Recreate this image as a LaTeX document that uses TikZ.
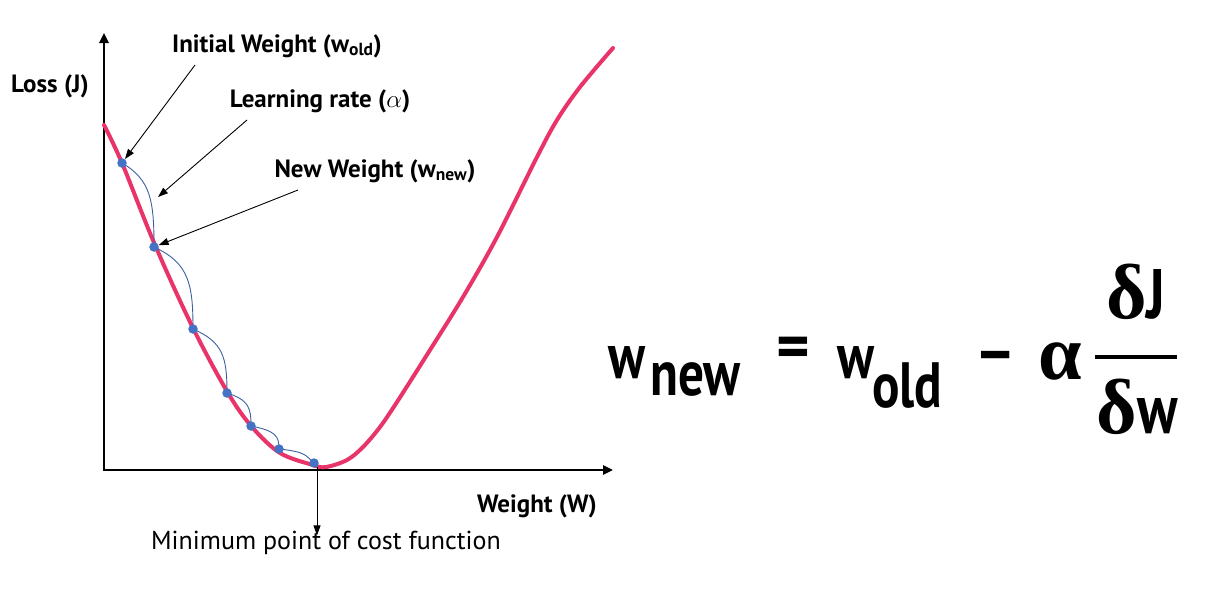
\RequirePackage{fix-cm}
\documentclass[tikz,border=0pt]{standalone}
\usepackage{fontspec}
\setmainfont{PT Sans}
\newfontfamily\grkfont{Liberation Serif}
\usetikzlibrary{arrows.meta}

\definecolor{losspink}{RGB}{233,52,106}
\definecolor{stepblue}{RGB}{68,114,196}
\definecolor{pathblue}{RGB}{62,96,160}
\newcommand{\squeeze}[1]{\scalebox{0.8}[1]{#1}}

\tikzset{
  axis/.style={line width=2.4pt, {Triangle[length=10pt,width=9pt]}-{Triangle[length=10pt,width=9pt]}},
  ptr/.style={line width=0.9pt, -{Triangle[length=10pt,width=7pt]}},
  wdot/.style={circle, fill=stepblue, inner sep=0pt, minimum size=9.5pt},
  lbl/.style={font=\bfseries\fontsize{25}{28}\selectfont, inner sep=0pt},
  eqn/.style={font=\bfseries\fontsize{64}{66}\selectfont, inner sep=0pt},
  greek/.style={font=\grkfont\bfseries\fontsize{78}{80}\selectfont, inner sep=0pt},
}

\begin{document}
\begin{tikzpicture}[x=1pt,y=-1pt]
\useasboundingbox (0,0) rectangle (1212,608);

% axes
\coordinate (O) at (104,470);
\coordinate (ytop) at (104,33);
\coordinate (xend) at (613,470);
\draw[axis] (ytop) -- (O) -- (xend);

% cost curve
\draw[losspink, line width=4pt, line cap=round] plot[smooth, tension=0.55] coordinates {
  (104,125) (122,163) (155,245) (193,328) (228,393) (252,427) (280,453)
  (313,465) (326,467) (347,460) (363,447) (380,427) (397,402) (430,350)
  (463,297) (497,237) (537,157) (557,120) (580,87) (613,48)};

% gradient steps
\foreach \n/\p in {1/{122,163}, 2/{154,247}, 3/{193,329}, 4/{227,393},
                   5/{251,426}, 6/{279,449}, 7/{314,463}}
  \coordinate (p\n) at (\p);
\draw[pathblue, line width=0.9pt]
  (p1) .. controls +(29,17) and +(0,-46) .. (p2)
       .. controls +(35,16) and +(0,-45) .. (p3)
       .. controls +(30,13) and +(0,-36) .. (p4)
       .. controls +(22,7) and +(0,-18) .. (p5)
       .. controls +(25,5) and +(0,-13) .. (p6)
       .. controls +(30,3) and +(-8,-6) .. (p7);
\foreach \n in {1,...,7}
  \node[wdot] (d\n) at (p\n) {};

% labels
\node[lbl, anchor=base] (lossy) at (50,92) {Loss (J)};
\node[lbl, anchor=base] (lossx) at (537,512) {Weight (W)};
\node[lbl, anchor=base] (init) at (277,52) {Initial Weight (w\textsubscript{old})};
\node[lbl, anchor=base] (rate) at (320,107) {Learning rate ($\alpha$)};
\node[lbl, anchor=base] (neww) at (375,177) {New Weight (w\textsubscript{new})};
\node[lbl, font=\fontsize{26}{29}\selectfont, anchor=base] (minlbl) at (326,549) {Minimum point of cost function};

\coordinate (a1) at (195,65);
\coordinate (a2) at (247,120);
\coordinate (a3) at (298,190);
\coordinate (lrpt) at (158,197);
\coordinate (min) at (317,467);
\draw[ptr] (a1) -- (d1);
\draw[ptr] (a2) -- (lrpt);
\draw[ptr] (a3) -- (d2);
\draw[ptr] (min) -- ([yshift=-5pt]min |- minlbl.north);

% update rule
\node[eqn, anchor=base west] (wnew) at (608,378) {\squeeze{w}};
\node[eqn, anchor=base west] (subnew) at (650,395) {\squeeze{new}};
\node[eqn] (eq) at (793,353) {=};
\node[eqn, anchor=base west] (wold) at (837,378) {\squeeze{w}};
\node[eqn, anchor=base west] (subold) at (872,407) {\squeeze{old}};
\node[eqn] (minus) at (996,362) {--};
\node[greek] (alpha) at (1060,361) {α};
\node[greek, anchor=base] (num) at (1136,318) {δ\squeeze{\normalfont\bfseries\fontsize{70}{72}\selectfont J}};
\node[greek, anchor=base] (den) at (1137,433) {δ\squeeze{\normalfont\bfseries\fontsize{70}{72}\selectfont w}};
\coordinate (barL) at (1095,357);
\coordinate (barR) at (1177,357);
\draw[line width=4pt] (barL) -- (barR);
\end{tikzpicture}
\end{document}
